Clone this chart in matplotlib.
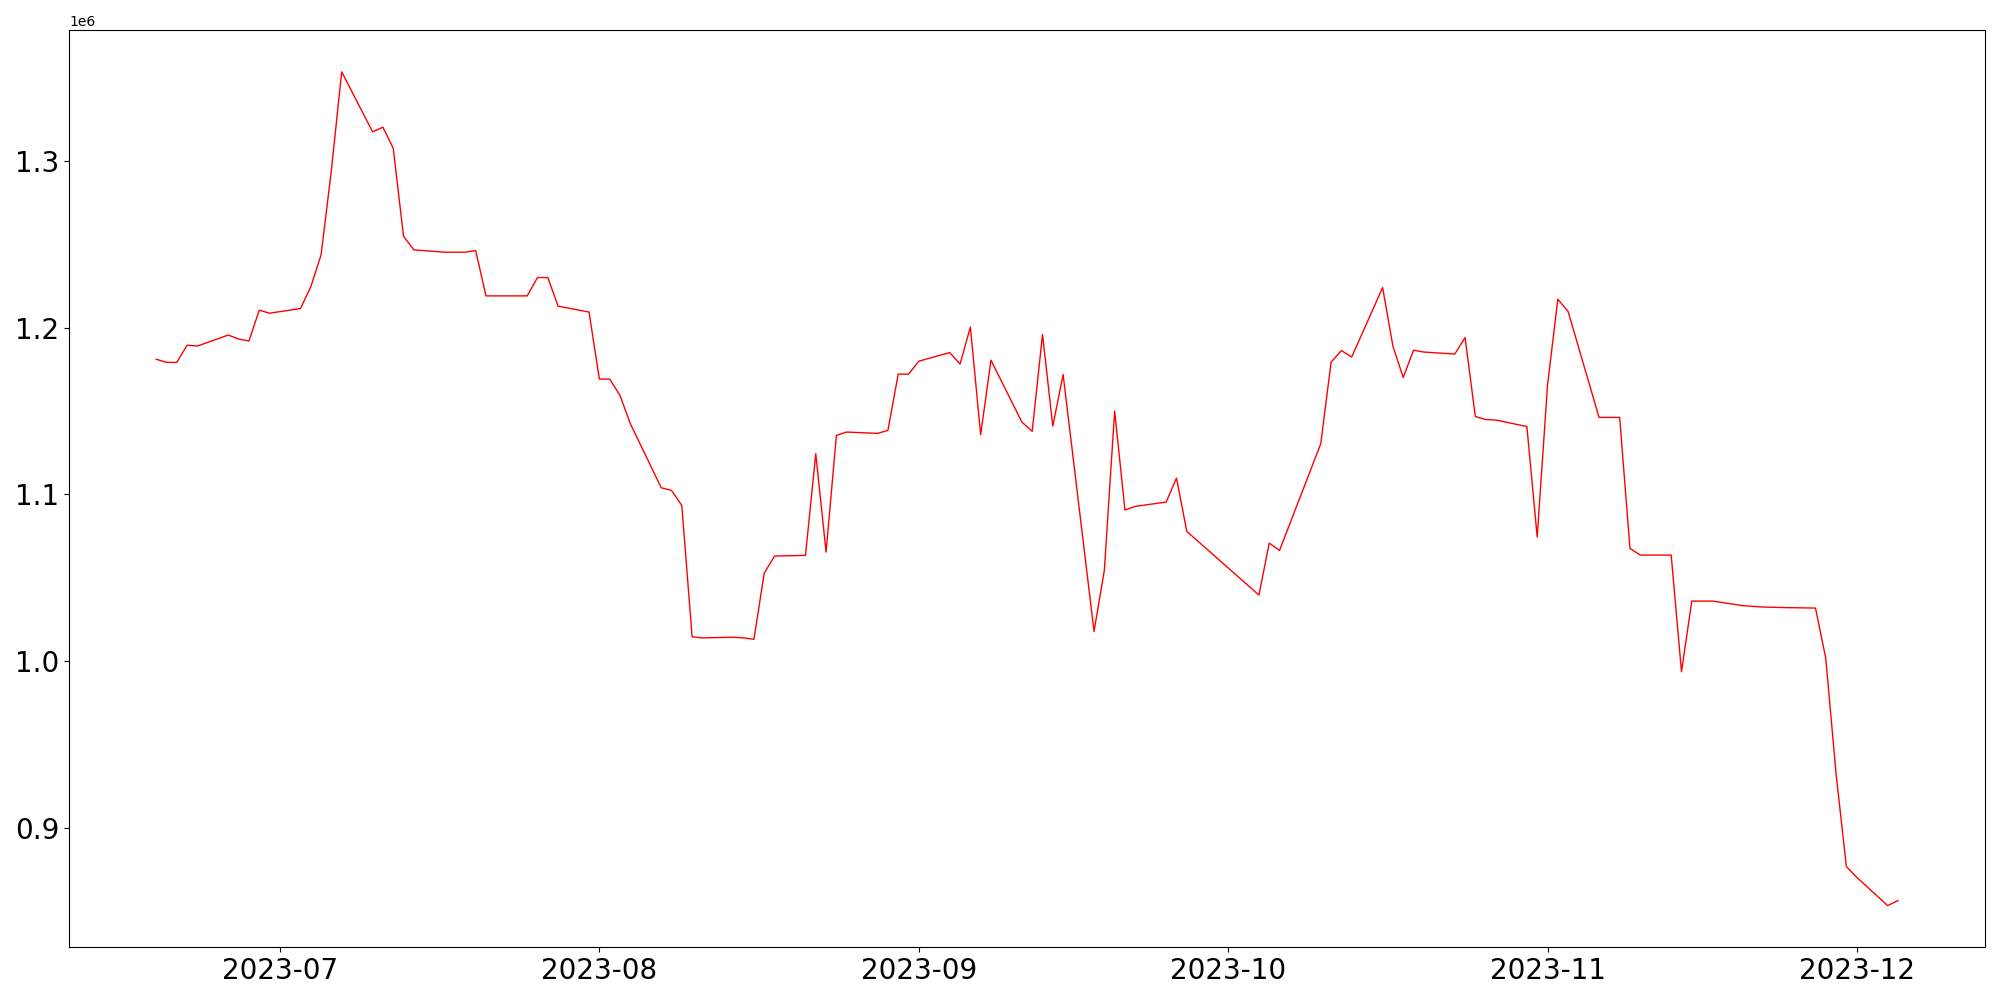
import pandas as pd
import matplotlib
matplotlib.use("Agg")
import matplotlib.pyplot as plt

# ── DATA ──────────────────────────────────────────────────────────────────────

dates = [
    "2023-06-19", "2023-06-20", "2023-06-21", "2023-06-22", "2023-06-23",
    "2023-06-26", "2023-06-27", "2023-06-28", "2023-06-29", "2023-06-30",
    "2023-07-03", "2023-07-04", "2023-07-05", "2023-07-06", "2023-07-07",
    "2023-07-10", "2023-07-11", "2023-07-12", "2023-07-13", "2023-07-14",
    "2023-07-17", "2023-07-18", "2023-07-19", "2023-07-20", "2023-07-21",
    "2023-07-24", "2023-07-25", "2023-07-26", "2023-07-27", "2023-07-28",
    "2023-07-31", "2023-08-01", "2023-08-02", "2023-08-03", "2023-08-04",
    "2023-08-07", "2023-08-08", "2023-08-09", "2023-08-10", "2023-08-11",
    "2023-08-14", "2023-08-15", "2023-08-16", "2023-08-17", "2023-08-18",
    "2023-08-21", "2023-08-22", "2023-08-23", "2023-08-24", "2023-08-25",
    "2023-08-28", "2023-08-29", "2023-08-30", "2023-08-31", "2023-09-01",
    "2023-09-04", "2023-09-05", "2023-09-06", "2023-09-07", "2023-09-08",
    "2023-09-11", "2023-09-12", "2023-09-13", "2023-09-14", "2023-09-15",
    "2023-09-18", "2023-09-19", "2023-09-20", "2023-09-21", "2023-09-22",
    "2023-09-25", "2023-09-26", "2023-09-27",
    "2023-10-04", "2023-10-05", "2023-10-06",
    "2023-10-10", "2023-10-11", "2023-10-12", "2023-10-13",
    "2023-10-16", "2023-10-17", "2023-10-18", "2023-10-19", "2023-10-20",
    "2023-10-23", "2023-10-24", "2023-10-25", "2023-10-26", "2023-10-27",
    "2023-10-30", "2023-10-31", "2023-11-01", "2023-11-02", "2023-11-03",
    "2023-11-06", "2023-11-07", "2023-11-08", "2023-11-09", "2023-11-10",
    "2023-11-13", "2023-11-14", "2023-11-15", "2023-11-16", "2023-11-17",
    "2023-11-20", "2023-11-21", "2023-11-22", "2023-11-24",
    "2023-11-27", "2023-11-28", "2023-11-29", "2023-11-30", "2023-12-01",
    "2023-12-04", "2023-12-05",
]

values = [
    1181000, 1179100, 1179100, 1189400, 1188900,
    1195500, 1193100, 1191900, 1210400, 1208600,
    1211400, 1224400, 1243600, 1294400, 1353400,
    1317400, 1320200, 1307600, 1254800, 1246600,
    1245200, 1245200, 1245200, 1246200, 1219000,
    1219000, 1219000, 1230000, 1230000, 1212800,
    1209300, 1169100, 1169100, 1159300, 1142400,
    1103900, 1102300, 1093300, 1014500, 1013800,
    1014200, 1013800, 1013000, 1052700, 1062900,
    1063300, 1124300, 1065300, 1135300, 1137300,
    1136500, 1138300, 1172100, 1172000, 1179800,
    1185000, 1178100, 1200300, 1135700, 1180400,
    1143300, 1137700, 1195800, 1140900, 1171800,
    1017700, 1054300, 1149900, 1090500, 1092700,
    1095300, 1109700, 1077700,
    1039500, 1070700, 1066300,
    1130300, 1179200, 1186200, 1182300,
    1224000, 1188800, 1170000, 1186400, 1185300,
    1184100, 1194000, 1146600, 1144800, 1144500,
    1140600, 1074300, 1165300, 1217000, 1209600,
    1146100, 1146100, 1146100, 1067500, 1063500,
    1063500, 993500, 1035900, 1035900, 1035900,
    1033100, 1032700, 1032300, 1032000,
    1031700, 1001600, 932200, 876600, 870200,
    853200, 856200,
]

# ── PLOT ──────────────────────────────────────────────────────────────────────

fig, ax = plt.subplots(figsize=(20, 10), dpi=100)
ax.plot(pd.to_datetime(dates), values, color='red', linewidth=1)
ax.tick_params(labelsize=20)

plt.tight_layout()
plt.savefig("out.png", dpi=100)
